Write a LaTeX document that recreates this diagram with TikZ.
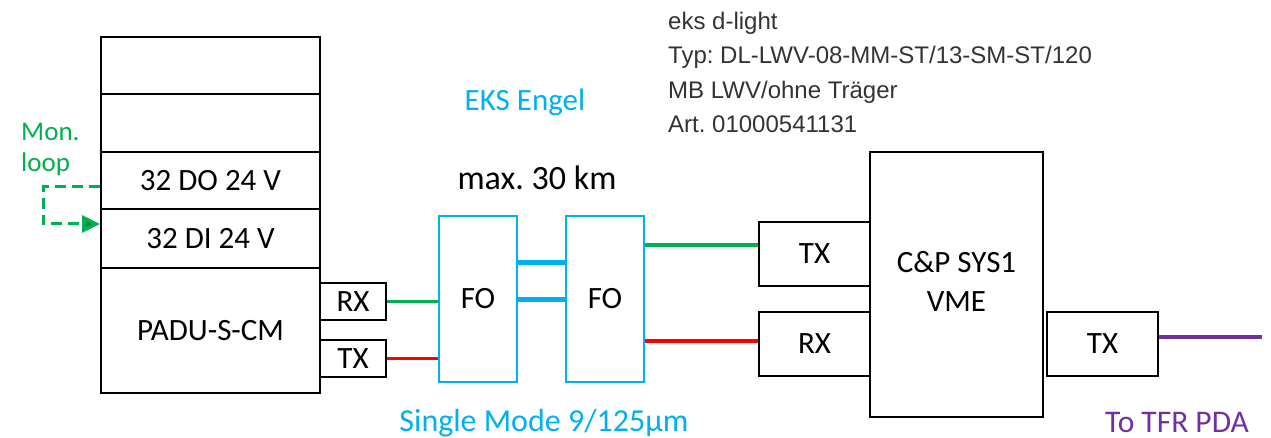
\documentclass[tikz,border=0pt]{standalone}
\usepackage{fontspec}
\setmainfont{Carlito}
\newfontfamily\arialfont{Liberation Sans}
\usetikzlibrary{arrows.meta}
\frenchspacing
\definecolor{cgreen}{HTML}{00B050}
\definecolor{cred}{HTML}{FF0000}
\definecolor{ccyan}{HTML}{00B0F0}
\definecolor{cpurple}{HTML}{7030A0}
\definecolor{cgray}{HTML}{333333}
\tikzset{
  bigfont/.style={font=\fontsize{31}{36}\selectfont},
  blackbox/.style={draw=black, line width=2pt, inner sep=0pt, bigfont},
  fobox/.style={draw=ccyan, line width=1.8pt, inner sep=0pt, bigfont, minimum width=78pt, minimum height=166pt},
  wire/.style={line width=3.2pt},
  fiber/.style={draw=ccyan, line width=5pt},
  infotext/.style={font=\arialfont\fontsize{24}{28}\selectfont, text=cgray, anchor=base west, inner sep=0pt},
}
\begin{document}
\begin{tikzpicture}[x=1pt,y=-1pt]
\useasboundingbox (0,0) rectangle (1271,438);
% left rack
\node[blackbox, minimum width=219pt, minimum height=57pt] (row1) at (210.5,65.5) {};
\node[blackbox, minimum width=219pt, minimum height=58pt] (row2) at (210.5,123) {};
\node[blackbox, minimum width=219pt, minimum height=57pt] (do) at (210.5,180.5) {32 DO 24 V};
\node[blackbox, minimum width=219pt, minimum height=59pt] (di) at (210.5,238.5) {32 DI 24 V};
\node[blackbox, minimum width=219pt, minimum height=125pt] (padu) at (210.5,330.5) {PADU-S-CM};
\node[blackbox, minimum width=66pt, minimum height=37pt] (rx1) at (353,301.5) {RX};
\node[blackbox, minimum width=66pt, minimum height=37pt] (tx1) at (353,358.5) {TX};
% monitoring loop
\node[font=\fontsize{27}{30}\selectfont, text=cgreen, anchor=base west, inner sep=0pt] (mon1) at (21,141) {Mon.};
\node[font=\fontsize{27}{30}\selectfont, text=cgreen, anchor=base west, inner sep=0pt] (mon2) at (21,172) {loop};
\coordinate (ml1) at (43,187);
\coordinate (ml2) at (43,224);
\draw[cgreen, line width=3pt, dash pattern=on 11pt off 6pt, -{Triangle[length=18pt,width=17pt,fill=cgreen!85!black]}]
  ([yshift=-6.5pt]do.west) -- (ml1) -- (ml2) -- ([yshift=14.5pt]di.west);
% FO
\node[fobox] (fo1) at (478,299) {FO};
\node[fobox] (fo2) at (605,299) {FO};
\draw[fiber] ([yshift=36pt]fo1.east) -- ([yshift=36pt]fo2.west);
\draw[fiber] (fo1.east) -- (fo2.west);
\draw[wire, cgreen] (rx1.east) -- (rx1.east -| fo1.west);
\draw[wire, cred] (tx1.east) -- (tx1.east -| fo1.west);
\node[bigfont, text=ccyan, anchor=base, inner sep=0pt] (eks) at (525,111) {EKS Engel};
\node[font=\fontsize{34}{38}\selectfont, anchor=base, inner sep=0pt] (max) at (537,190) {max. 30 km};
\node[font=\fontsize{32}{36}\selectfont, text=ccyan, anchor=base, inner sep=0pt] (sm) at (544,431) {Single Mode 9/125µm};
% right system
\node[blackbox, minimum width=173pt, minimum height=265pt] (cp) at (956.5,284.5) {\begin{tabular}{c}C\&P SYS1\\[3pt]VME\end{tabular}};
\node[blackbox, minimum width=111pt, minimum height=64pt] (tx2) at (814.5,254) {TX};
\node[blackbox, minimum width=111pt, minimum height=64pt] (rx2) at (814.5,344) {RX};
\node[blackbox, minimum width=111pt, minimum height=64pt] (tx3) at (1102.5,344) {TX};
\draw[wire, cgreen] ([yshift=9pt]tx2.west -| fo2.east) -- ([yshift=9pt]tx2.west);
\draw[wire, cred] ([yshift=3pt]rx2.west -| fo2.east) -- ([yshift=3pt]rx2.west);
\coordinate (pend) at (1262,337);
\draw[wire, cpurple] ([yshift=7pt]tx3.east) -- (pend);
\node[font=\fontsize{31.5}{36}\selectfont, text=cpurple, anchor=base west, inner sep=0pt] (tfr) at (1105,432) {To TFR PDA};
% info text
\node[infotext] (info1) at (668,30) {eks d-light};
\node[infotext] (info2) at (668,64) {Typ: DL-LWV-08-MM-ST/13-SM-ST/120};
\node[infotext] (info3) at (668,98.5) {MB LWV/ohne Träger};
\node[infotext] (info4) at (668,133) {Art. 01000541131};
\end{tikzpicture}
\end{document}
